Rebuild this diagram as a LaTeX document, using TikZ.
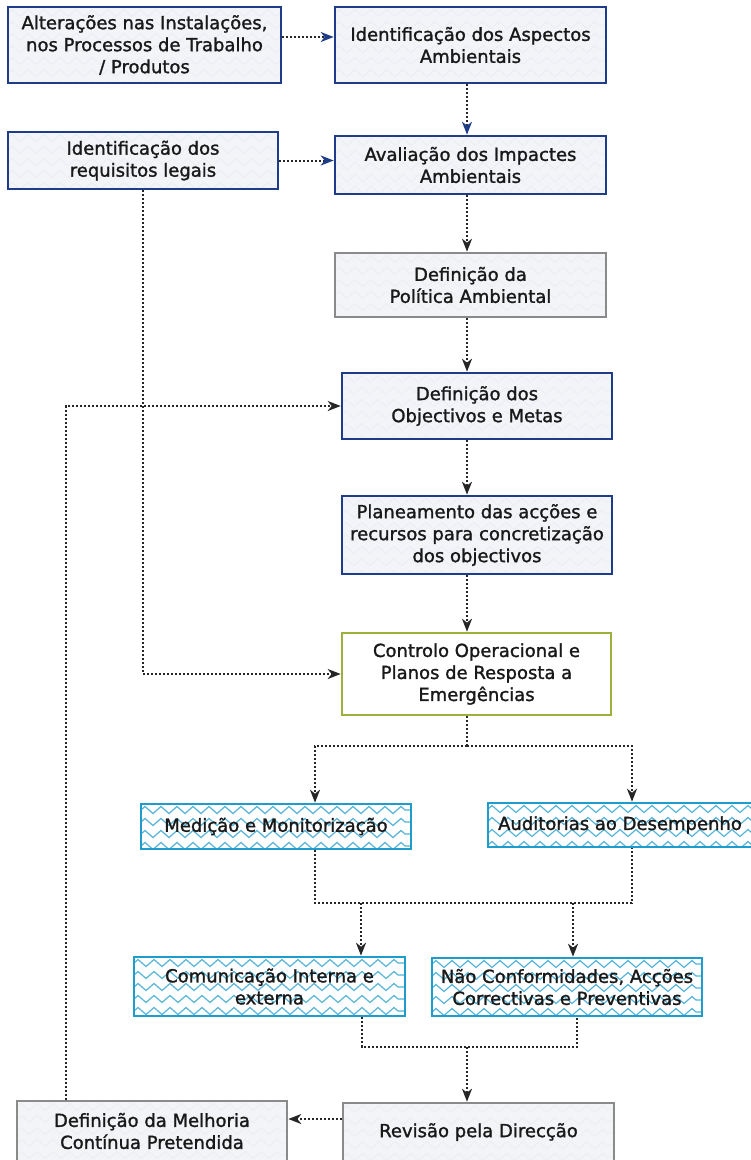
\documentclass[tikz,border=0pt]{standalone}
\usepackage{fontspec}
\setmainfont{DejaVu Sans}
\newfontfamily\boxfont{DejaVu Sans}[RawFeature={embolden=1.4}]
\usetikzlibrary{arrows.meta,decorations.pathmorphing}

\definecolor{navyline}{HTML}{1F3C88}
\definecolor{greyline}{HTML}{8A8A8A}
\definecolor{oliveline}{HTML}{9DB03A}
\definecolor{cyanline}{HTML}{1E9CCB}
\definecolor{paper}{HTML}{F2F4F7}

\begin{document}
\begin{tikzpicture}[
  x=1pt, y=-1pt,
  every node/.style={font=\boxfont\fontsize{18}{22}\selectfont, text=black!90},
  box/.style={draw, line width=2.6pt, fill=paper, align=center, inner sep=0pt},
  waves/.style={path picture={
    \foreach \k in {0,...,6}
      \draw[#1, decorate, decoration={zigzag, segment length=16pt, amplitude=3.5pt}]
        ([yshift=-6pt-\k*12pt]path picture bounding box.north west) --
        ([yshift=-6pt-\k*12pt]path picture bounding box.north east);
  }},
  navybox/.style={box, draw=navyline, waves={navyline!10, line width=0.7pt}},
  greybox/.style={box, draw=greyline, waves={black!7, line width=0.7pt}},
  olivebox/.style={box, draw=oliveline, fill=white},
  cyanbox/.style={box, draw=cyanline, fill=white, waves={cyanline!75, line width=1.2pt}},
  arrow/.style={draw=black!85, line width=2pt, dash pattern=on 2pt off 2pt,
    -{Stealth[length=13pt,width=10pt,inset=4pt]}},
  arrowb/.style={arrow, -{Stealth[length=13pt,width=10pt,inset=4pt,navyline]}},
  dotline/.style={arrow, -}
]
  \useasboundingbox (0,0) rectangle (751,1160);

  % upper column
  \node[navybox, minimum width=273pt, minimum height=76pt] (alt) at (144.5,45)
    {Alterações nas Instalações,\\nos Processos de Trabalho\\/ Produtos};
  \node[navybox, minimum width=271pt, minimum height=76pt] (idasp) at (470.5,45)
    {Identificação dos Aspectos\\Ambientais};
  \node[navybox, minimum width=270pt, minimum height=57pt] (req) at (143,160.5)
    {Identificação dos\\requisitos legais};
  \node[navybox, minimum width=271pt, minimum height=58pt] (aval) at (470.5,165)
    {Avaliação dos Impactes\\Ambientais};
  \node[greybox, minimum width=271pt, minimum height=64pt] (polit) at (470.5,285)
    {Definição da\\Política Ambiental};
  \node[navybox, minimum width=270pt, minimum height=66pt] (obj) at (477,406)
    {Definição dos\\Objectivos e Metas};
  \node[navybox, minimum width=270pt, minimum height=78pt] (plan) at (477,535)
    {Planeamento das acções e\\recursos para concretização\\dos objectivos};
  \node[olivebox, minimum width=269pt, minimum height=82pt] (cont) at (476.5,674)
    {Controlo Operacional e\\Planos de Resposta a\\Emergências};

  % lower part
  \node[cyanbox, minimum width=270pt, minimum height=45pt] (med) at (276,826.5)
    {Medição e Monitorização};
  \node[cyanbox, minimum width=264pt, minimum height=44pt] (aud) at (620,825)
    {Auditorias ao Desempenho};
  \node[cyanbox, minimum width=271pt, minimum height=59pt] (com) at (269.5,986.5)
    {Comunicação Interna e\\externa};
  \node[cyanbox, minimum width=270pt, minimum height=58pt] (nc) at (567,987)
    {Não Conformidades, Acções\\Correctivas e Preventivas};
  \node[greybox, minimum width=270pt, minimum height=60pt] (mel) at (152,1131)
    {Definição da Melhoria\\Contínua Pretendida};
  \node[greybox, minimum width=271pt, minimum height=58pt] (rev) at (478.5,1132)
    {Revisão pela Direcção};

  % connectors
  \coordinate (spine) at (467,0);
  \coordinate (retx) at (66,0);
  \coordinate (altr) at ([yshift=8pt]alt.east);
  \coordinate (revl) at ([yshift=13pt]rev.west);
  \draw[arrowb] (altr) -- (altr -| idasp.west);
  \draw[arrowb] (idasp.south -| spine) -- (aval.north -| spine);
  \draw[arrowb] (req.east) -- (req.east -| aval.west);
  \draw[arrow] (aval.south -| spine) -- (polit.north -| spine);
  \draw[arrow] (polit.south -| spine) -- (obj.north -| spine);
  \draw[arrow] (obj.south -| spine) -- (plan.north -| spine);
  \draw[arrow] (plan.south -| spine) -- (cont.north -| spine);
  \draw[arrow] (req.south) |- (cont.west);
  \draw[arrow] (mel.north -| retx) |- (obj.west);

  \coordinate (split) at (467,746);
  \coordinate (splitl) at (315,746);
  \coordinate (splitr) at (632,746);
  \draw[dotline] (cont.south -| spine) -- (split);
  \draw[arrow] (split) -- (splitl) -- (splitl |- med.north);
  \draw[arrow] (split) -- (splitr) -- (splitr |- aud.north);

  \coordinate (joinl) at (315,903);
  \coordinate (joinr) at (632,903);
  \coordinate (dropl) at (361,903);
  \coordinate (dropr) at (573,903);
  \draw[dotline] (joinl |- med.south) -- (joinl) -- (joinr) -- (joinr |- aud.south);
  \draw[arrow] (dropl) -- (dropl |- com.north);
  \draw[arrow] (dropr) -- (dropr |- nc.north);

  \coordinate (mergel) at (362,1047);
  \coordinate (merger) at (577,1047);
  \coordinate (merge) at (467,1047);
  \draw[dotline] (mergel |- com.south) -- (mergel) -- (merger) -- (merger |- nc.south);
  \draw[arrow] (merge) -- (merge |- rev.north);
  \draw[arrow] (revl) -- (revl -| mel.east);
\end{tikzpicture}
\end{document}
